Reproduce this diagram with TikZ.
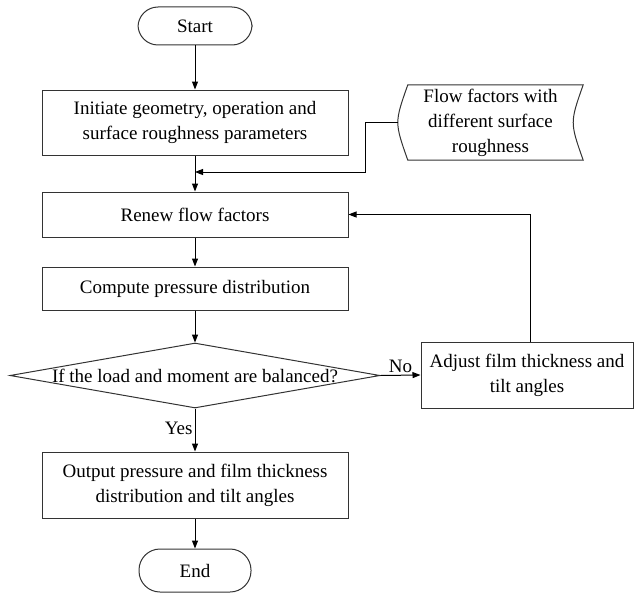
\documentclass[tikz,border=0pt]{standalone}
\usepackage{fontspec}
\setmainfont{Liberation Serif}
\usetikzlibrary{arrows.meta,shapes.geometric}
\begin{document}
\begin{tikzpicture}[x=1pt,y=-1pt,
  font=\fontsize{19}{25}\selectfont,
  box/.style={draw=black!80, line width=1pt, rectangle, inner sep=0pt, align=center},
  term/.style={box, rounded corners=20pt},
  arr/.style={draw=black, line width=1pt, -{Triangle[length=8pt,width=6pt]}},
  ln/.style={draw=black, line width=1pt},
  lbl/.style={inner sep=2pt}
]
\useasboundingbox (0,0) rectangle (634,594);

\node[term, minimum width=114pt, minimum height=38pt] (start) at (195,26) {Start};
\node[box, minimum width=306pt, minimum height=65pt] (init) at (195,122.5)
  {Initiate geometry, operation and\\surface roughness parameters};
\node[box, minimum width=306pt, minimum height=45pt] (renew) at (195,214.5) {Renew flow factors};
\node[box, minimum width=306pt, minimum height=43pt] (comp) at (195,288.5) {Compute pressure distribution};
\node[diamond, draw=black!80, line width=1pt, inner sep=0pt, minimum width=370pt, minimum height=65pt] (dia) at (195,375.5) {};
\node at (dia.center) {If the load and moment are balanced?};
\node[box, minimum width=212pt, minimum height=66pt] (adj) at (527,375)
  {Adjust film thickness and\\tilt angles};
\node[box, minimum width=306pt, minimum height=66pt] (out) at (195,485)
  {Output pressure and film thickness\\distribution and tilt angles};
\node[term, minimum width=112pt, minimum height=43pt, rounded corners=21pt] (end) at (195,570.5) {End};

% stored data shape
\node[inner sep=0pt, minimum width=185pt, minimum height=75pt, align=center] (ff) at (490.5,122.5)
  {Flow factors with\\different surface\\roughness};
\draw[draw=black!80, line width=1pt]
  ([xshift=10pt]ff.north west) -- (ff.north east)
  .. controls ([xshift=-13.3pt]ff.east) .. (ff.south east)
  -- ([xshift=10pt]ff.south west)
  .. controls ([xshift=-3.3pt]ff.west) .. ([xshift=10pt]ff.north west) -- cycle;

\coordinate (fbx) at (365,0);
\coordinate (j) at (195,172);
\coordinate (fb) at (530,214);

\draw[arr] (start) -- (init);
\draw[arr] (init) -- (renew);
\draw[arr] (ff.west) -- (fbx |- ff.west) |- (j);
\draw[arr] (renew) -- (comp);
\draw[arr] (comp) -- (dia.north);
\draw[arr] (dia.east) -- node[lbl, above] {No} (adj.west);
\draw[arr] (dia.south) -- node[lbl, left, pos=0.47] {Yes} (out.north);
\draw[arr] (adj.north -| fb) |- (renew.east);
\draw[arr] (out) -- (end);
\end{tikzpicture}
\end{document}
